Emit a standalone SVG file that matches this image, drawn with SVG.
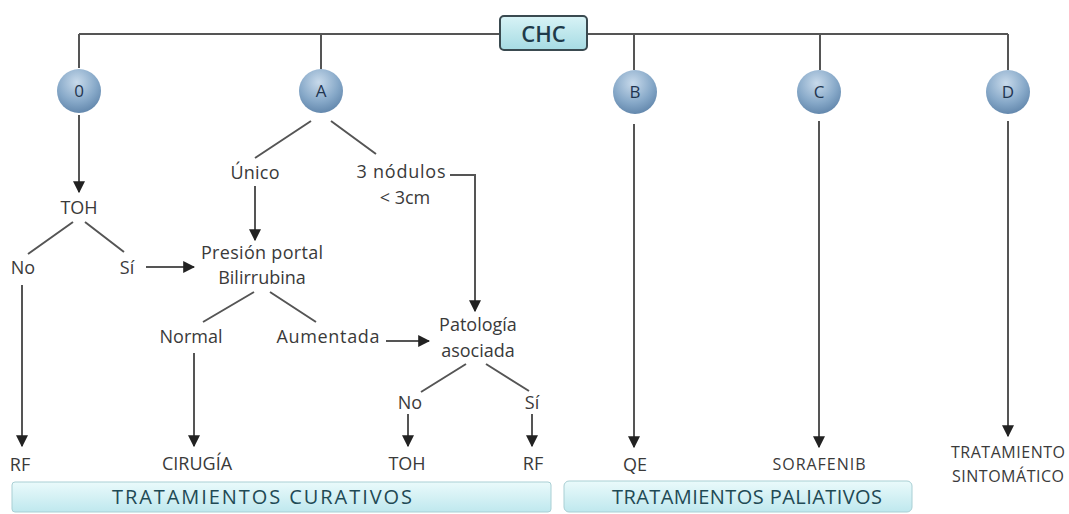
<svg xmlns="http://www.w3.org/2000/svg" width="1069" height="514" viewBox="0 0 1069 514">
<style>
.t{font-family:"Open Sans","Liberation Sans",sans-serif;font-size:18px;fill:#3a3a3a;text-anchor:middle}
.s{font-size:16px}
.c{font-family:"Open Sans","Liberation Sans",sans-serif;font-size:17px;fill:#1f3550;text-anchor:middle}
.bar{font-family:"Open Sans","Liberation Sans",sans-serif;font-size:20px;fill:#1f4a55;text-anchor:middle}
.ln{stroke:#555;stroke-width:2;fill:none}
.ar{stroke:#555;stroke-width:2;fill:none;marker-end:url(#ah)}
</style>
<defs>
<marker id="ah" viewBox="0 0 10 10" refX="9" refY="5" markerWidth="6" markerHeight="6" orient="auto" markerUnits="strokeWidth"><path d="M0,0L10,5L0,10z" fill="#222"/></marker>
<radialGradient id="ball" cx="0.45" cy="0.3" r="0.75"><stop offset="0" stop-color="#c8daeb"/><stop offset="0.6" stop-color="#86a8c8"/><stop offset="1" stop-color="#5d82a8"/></radialGradient>
<linearGradient id="barg" x1="0" y1="0" x2="0" y2="1"><stop offset="0" stop-color="#eafafb"/><stop offset="1" stop-color="#bfe8ee"/></linearGradient>
<linearGradient id="chcg" x1="0" y1="0" x2="0" y2="1"><stop offset="0" stop-color="#d8f3f6"/><stop offset="1" stop-color="#a6dbe3"/></linearGradient>
</defs>
<rect width="1069" height="514" fill="#fff"/>
<g id="connectors">
<path class="ln" d="M79,34H500M587,34H1008M79,34V68M321,34V69M634,34V70M820,34V70M1008,34V70"/>
<path class="ar" d="M79,115V192"/>
<path class="ln" d="M73,222L28,254M85,222L124,252"/>
<path class="ar" d="M146,267H194"/>
<path class="ar" d="M22,285V446"/>
<path class="ln" d="M311,121L255,158M331,121L376,154"/>
<path class="ar" d="M255,186V240"/>
<path class="ar" d="M450,175H475V311"/>
<path class="ln" d="M254,292L203,322M270,292L316,322"/>
<path class="ar" d="M386,341H429"/>
<path class="ar" d="M194,353V446"/>
<path class="ln" d="M466,364L421,392M486,364L529,391"/>
<path class="ar" d="M408,414V446"/>
<path class="ar" d="M532,414V446"/>
<path class="ar" d="M634,124V447"/>
<path class="ar" d="M819,121V447"/>
<path class="ar" d="M1008,121V436"/>
</g>
<g id="chc"><rect x="500" y="16" width="87" height="34" rx="4" fill="url(#chcg)" stroke="#3a4a50" stroke-width="2"/><text x="543.5" y="42" font-family="Open Sans,Liberation Sans,sans-serif" font-size="22" font-weight="600" fill="#1f3a4a" text-anchor="middle">CHC</text></g>
<g id="n0"><circle cx="79" cy="91" r="22" fill="url(#ball)"/><text class="c" x="79" y="97">0</text></g>
<g id="nA"><circle cx="321" cy="91" r="22" fill="url(#ball)"/><text class="c" x="321" y="97">A</text></g>
<g id="nB"><circle cx="635" cy="92" r="22" fill="url(#ball)"/><text class="c" x="635" y="98">B</text></g>
<g id="nC"><circle cx="819" cy="92" r="22" fill="url(#ball)"/><text class="c" x="819" y="98">C</text></g>
<g id="nD"><circle cx="1008" cy="92" r="22" fill="url(#ball)"/><text class="c" x="1008" y="98">D</text></g>
<g id="toh1"><text class="t" x="79" y="214">TOH</text></g>
<g id="no1"><text class="t" x="23" y="274">No</text></g>
<g id="si1"><text class="t" x="127" y="274">Sí</text></g>
<g id="rf1"><text class="t" x="20" y="471">RF</text></g>
<g id="unico"><text class="t" x="255" y="179" textLength="49">Único</text></g>
<g id="nod"><text class="t" x="401" y="178" textLength="89">3 nódulos</text><text class="t" x="405" y="204">&lt; 3cm</text></g>
<g id="presion"><text class="t" x="262" y="259" textLength="122">Presión portal</text><text class="t" x="262" y="284">Bilirrubina</text></g>
<g id="normal"><text class="t" x="191" y="343">Normal</text></g>
<g id="aument"><text class="t" x="328" y="343" textLength="103">Aumentada</text></g>
<g id="patol"><text class="t" x="478" y="331">Patología</text><text class="t" x="478" y="357">asociada</text></g>
<g id="no2"><text class="t" x="410" y="409">No</text></g>
<g id="si2"><text class="t" x="532" y="409">Sí</text></g>
<g id="cirugia"><text class="t" x="197" y="470">CIRUGÍA</text></g>
<g id="toh2"><text class="t" x="407" y="470">TOH</text></g>
<g id="rf2"><text class="t" x="533" y="470">RF</text></g>
<g id="qe"><text class="t" x="635" y="471">QE</text></g>
<g id="sora"><text class="t s" x="819" y="470" textLength="93">SORAFENIB</text></g>
<g id="sint"><text class="t s" x="1008" y="458" textLength="114">TRATAMIENTO</text><text class="t s" x="1008" y="482" textLength="112">SINTOMÁTICO</text></g>
<g id="curativos"><rect x="12" y="482" width="539" height="30" rx="3" fill="url(#barg)" stroke="#a9cfd4"/><text class="bar" x="262" y="504" textLength="300">TRATAMIENTOS  CURATIVOS</text></g>
<g id="paliativos"><rect x="564" y="481" width="348" height="31" rx="5" fill="url(#barg)" stroke="#a9cfd4"/><text class="bar" x="747" y="504" textLength="270">TRATAMIENTOS PALIATIVOS</text></g>
</svg>
